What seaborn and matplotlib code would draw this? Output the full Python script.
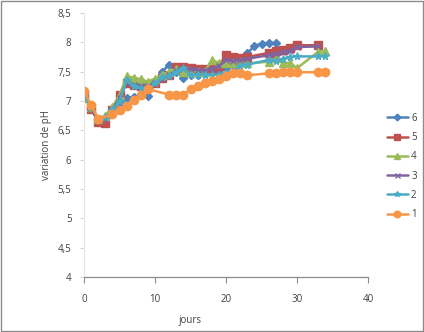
import matplotlib
matplotlib.use("Agg")
import matplotlib.pyplot as plt
import matplotlib.ticker as mticker
from matplotlib.patches import Rectangle
from matplotlib.lines import Line2D
import seaborn as sns
import pandas as pd

sns.set_theme(style="white")
plt.rcParams['font.family'] = ['Open Sans', 'DejaVu Sans']

# days and pH values per series
days_a = [0, 1, 2, 3, 4, 5, 6, 7, 8, 9, 10, 11, 12, 13, 14, 15, 16, 17, 18, 19, 20, 21, 22, 23, 24, 25, 26, 27]
s6 = [7.10, 6.87, 6.65, 6.62, 6.78, 6.90, 7.05, 7.07, 7.10, 7.08, 7.30, 7.50, 7.62, 7.50, 7.40, 7.45, 7.45, 7.48, 7.55, 7.52, 7.57, 7.62, 7.71, 7.81, 7.94, 7.98, 7.99, 7.99]

days_b = [0, 1, 2, 3, 4, 5, 6, 7, 8, 9, 10, 11, 12, 13, 14, 15, 16, 17, 18, 19, 20, 21, 22, 23, 26, 27, 28, 29, 30, 33]
s5 = [7.10, 6.87, 6.65, 6.62, 6.85, 7.10, 7.30, 7.28, 7.25, 7.27, 7.30, 7.40, 7.45, 7.58, 7.58, 7.56, 7.55, 7.55, 7.55, 7.60, 7.78, 7.75, 7.73, 7.75, 7.82, 7.86, 7.87, 7.90, 7.95, 7.95]
s3 = [7.10, 6.88, 6.68, 6.70, 6.85, 7.05, 7.30, 7.28, 7.25, 7.25, 7.30, 7.38, 7.45, 7.52, 7.55, 7.55, 7.52, 7.52, 7.55, 7.60, 7.70, 7.68, 7.70, 7.72, 7.78, 7.80, 7.83, 7.85, 7.92, 7.93]

days_c = [0, 1, 2, 3, 4, 5, 6, 7, 8, 9, 10, 11, 12, 13, 14, 15, 16, 17, 18, 19, 20, 21, 22, 23, 26, 27, 28, 29, 30, 33, 34]
s4 = [7.05, 6.90, 6.70, 6.75, 6.90, 7.10, 7.42, 7.40, 7.37, 7.33, 7.38, 7.45, 7.50, 7.55, 7.50, 7.50, 7.50, 7.50, 7.70, 7.65, 7.64, 7.65, 7.66, 7.64, 7.67, 7.73, 7.65, 7.65, 7.56, 7.84, 7.85]
s2 = [7.08, 6.90, 6.70, 6.72, 6.85, 7.00, 7.35, 7.25, 7.22, 7.20, 7.30, 7.41, 7.43, 7.50, 7.56, 7.44, 7.45, 7.45, 7.45, 7.45, 7.47, 7.50, 7.60, 7.62, 7.70, 7.68, 7.72, 7.75, 7.76, 7.76, 7.76]

days_d = [0, 1, 2, 4, 5, 6, 7, 8, 9, 12, 13, 14, 15, 16, 17, 18, 19, 20, 21, 22, 23, 26, 27, 28, 29, 30, 33, 34]
s1 = [7.17, 6.93, 6.70, 6.77, 6.85, 6.91, 7.02, 7.10, 7.20, 7.11, 7.11, 7.11, 7.20, 7.26, 7.30, 7.34, 7.37, 7.43, 7.47, 7.47, 7.44, 7.47, 7.47, 7.49, 7.49, 7.49, 7.49, 7.49]

labels = ["6", "5", "4", "3", "2", "1"]
series = [(days_a, s6), (days_b, s5), (days_c, s4), (days_b, s3), (days_c, s2), (days_d, s1)]
colors = ["#4F81BD", "#C0504D", "#9BBB59", "#8064A2", "#4BACC6", "#F79646"]
markers = ["D", "s", "^", "x", "*", "o"]
msizes = [4.3, 5.2, 5.2, 4.5, 5.5, 6.0]

W, H = 424, 332
fig = plt.figure(figsize=(W / 100, H / 100), dpi=100)
ax = fig.add_axes([84 / W, 1 - 277 / H, (368 - 84) / W, (277 - 13) / H])

for (d, v), lab, c, m, ms in zip(series, labels, colors, markers, msizes):
    df = pd.DataFrame({"jours": d, "pH": v})
    sns.lineplot(data=df, x="jours", y="pH", ax=ax, color=c, marker=m,
                 markersize=ms, linewidth=1.8, markeredgecolor=c,
                 markeredgewidth=1.0, legend=False)

ax.set_xlim(0, 40)
ax.set_ylim(4, 8.5)
ax.xaxis.set_major_locator(mticker.MultipleLocator(10))
ax.yaxis.set_major_locator(mticker.MultipleLocator(0.5))
fmt = mticker.FuncFormatter(lambda v, p: (f"{v:g}").replace(".", ","))
ax.yaxis.set_major_formatter(fmt)
ax.xaxis.set_major_formatter(fmt)
ax.set_xlabel("")
ax.set_ylabel("")

for s in ["top", "right"]:
    ax.spines[s].set_visible(False)
ax.spines["left"].set_color("#E6E6E6")
ax.spines["left"].set_linewidth(0.8)
ax.spines["bottom"].set_color("#8C8C8C")
ax.spines["bottom"].set_linewidth(0.9)
ax.tick_params(axis="y", which="major", direction="out", length=3, width=0.7,
               color="#D0D0D0", labelsize=7, labelcolor="#404040", pad=6, left=True)
ax.tick_params(axis="x", which="major", direction="out", length=4, width=0.8,
               color="#8C8C8C", labelsize=7, labelcolor="#404040", pad=8, bottom=True)

fig.text(47 / W, 1 - 145 / H, "variation de pH", rotation=90, ha="center", va="center",
         fontsize=7, color="#404040")
fig.text(190 / W, 1 - 320 / H, "jours", ha="center", va="center", fontsize=7, color="#404040")

handles = [Line2D([0], [0], color=c, marker=m, markersize=ms * 0.8, linewidth=1.8,
                  markeredgecolor=c) for c, m, ms in zip(colors, markers, msizes)]
leg = fig.legend(handles, labels, loc="center left", bbox_to_anchor=(378 / W, 1 - 166.5 / H),
                 frameon=False, fontsize=7, handlelength=2.2, labelspacing=0.85,
                 handletextpad=0.3, labelcolor="#404040")

fig.patches.append(Rectangle((0.002, 0.002), 0.996, 0.995, transform=fig.transFigure,
                             fill=False, edgecolor="#8C8C8C", linewidth=1.0))

fig.savefig("out.png", dpi=100)
